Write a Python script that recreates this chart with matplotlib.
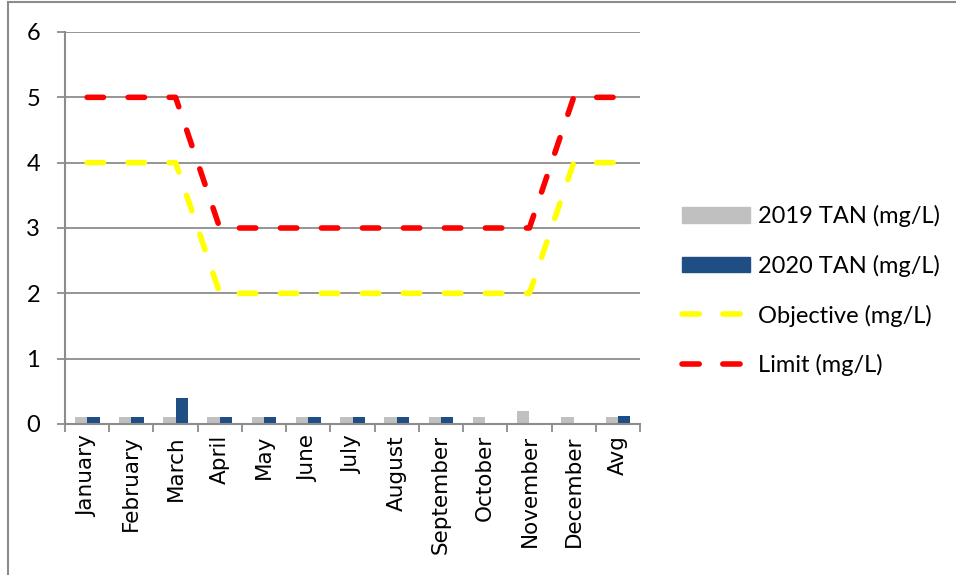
import matplotlib
matplotlib.use("Agg")
import matplotlib.pyplot as plt
import numpy as np
from matplotlib.lines import Line2D

categories = ["January", "February", "March", "April", "May", "June", "July",
              "August", "September", "October", "November", "December", "Avg"]
tan_2019 = [0.1, 0.1, 0.1, 0.1, 0.1, 0.1, 0.1, 0.1, 0.1, 0.1, 0.2, 0.1, 0.1]
tan_2020 = [0.1, 0.1, 0.4, 0.1, 0.1, 0.1, 0.1, 0.1, 0.1, np.nan, np.nan, np.nan, 0.13]
objective = [4, 4, 4, 2, 2, 2, 2, 2, 2, 2, 2, 4, 4]
limit = [5, 5, 5, 3, 3, 3, 3, 3, 3, 3, 3, 5, 5]
y_ticks = [0, 1, 2, 3, 4, 5, 6]

label_font = ["Lato", "DejaVu Sans"]
grid_gray = "#8c8c8c"

fig = plt.figure(figsize=(9.56, 5.75), dpi=100)
W, H = 956, 575
ax = fig.add_axes([65 / W, 1 - 424 / H, (640 - 65) / W, (424 - 32) / H])

x = np.arange(len(categories))
bw = 0.28
ax.bar(x - bw / 2, tan_2019, width=bw, color="#c0c0c0", zorder=2,
       label="2019 TAN (mg/L)")
ax.bar(x + bw / 2, tan_2020, width=bw, color="#1f4e84", zorder=2,
       label="2020 TAN (mg/L)")

dash = (2.95, 4.43)
ax.plot(x, objective, color="#ffff00", lw=4, dashes=dash,
        dash_capstyle="round", solid_capstyle="round", zorder=3,
        label="Objective (mg/L)")
ax.plot(x, limit, color="#ff0000", lw=4, dashes=dash,
        dash_capstyle="round", solid_capstyle="round", zorder=4,
        label="Limit (mg/L)")

ax.set_xlim(-0.5, len(categories) - 0.5)
ax.set_ylim(0, 6)
ax.set_yticks(y_ticks)
ax.set_yticklabels([str(v) for v in y_ticks], fontfamily=label_font, fontsize=17)
ax.yaxis.grid(True, color=grid_gray, lw=1.3, zorder=0)
ax.set_axisbelow(True)

# category labels at centres, tick marks between categories
ax.set_xticks(x)
ax.set_xticklabels(categories, rotation=90, fontsize=15.5, fontfamily="DejaVu Sans")
ax.tick_params(axis="x", which="major", length=0, pad=8)
ax.set_xticks(np.arange(-0.5, len(categories)), minor=True)
ax.tick_params(axis="x", which="minor", length=6, width=1.3, color=grid_gray,
               direction="out")
ax.tick_params(axis="y", length=6, width=1.3, color=grid_gray, direction="out", pad=12)

for side in ("top", "right"):
    ax.spines[side].set_visible(False)
for side in ("left", "bottom"):
    ax.spines[side].set_color(grid_gray)
    ax.spines[side].set_linewidth(1.5)

# legend on the right
legend_dash = (3.1, 4.25)
handles = [
    plt.Rectangle((0, 0), 1, 1, color="#c0c0c0"),
    plt.Rectangle((0, 0), 1, 1, color="#1f4e84"),
    Line2D([], [], color="#ffff00", lw=4, dashes=legend_dash, dash_capstyle="round"),
    Line2D([], [], color="#ff0000", lw=4, dashes=legend_dash, dash_capstyle="round"),
]
labels = ["2019 TAN (mg/L)", "2020 TAN (mg/L)", "Objective (mg/L)", "Limit (mg/L)"]
fig.legend(handles, labels, loc="upper left", bbox_to_anchor=(682 / W, 1 - 205 / H),
           frameon=False, prop={"family": label_font, "size": 17},
           handlelength=2.9, handleheight=0.65, handletextpad=0.3,
           labelspacing=1.17, borderaxespad=0, borderpad=0)

# outer chart frame
fig.add_artist(Line2D([8 / W, 8 / W], [0, 1 - 2 / H], transform=fig.transFigure,
                      color="#8c8c8c", lw=1.5))
fig.add_artist(Line2D([8 / W, 1], [1 - 2 / H, 1 - 2 / H], transform=fig.transFigure,
                      color="#8c8c8c", lw=1.5))

fig.savefig("out.png", dpi=100)
